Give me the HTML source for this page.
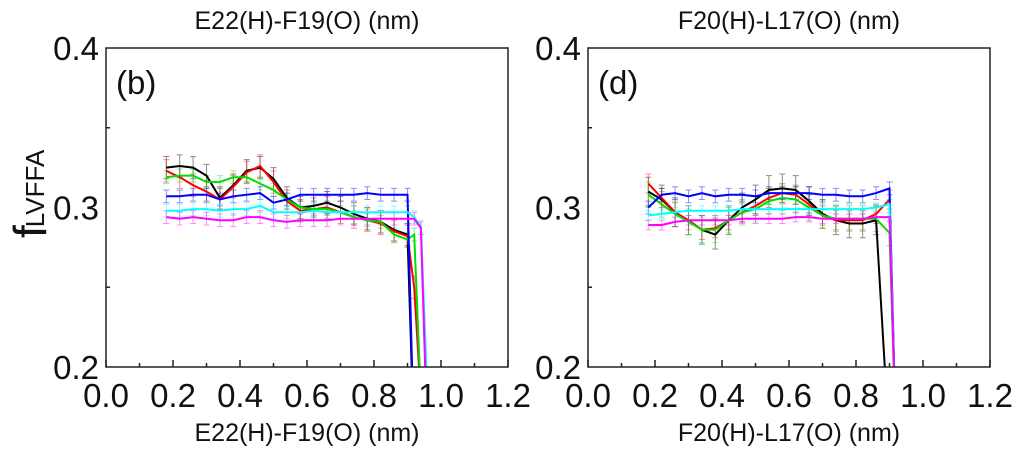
<!DOCTYPE html>
<html><head><meta charset="utf-8"><style>
body{margin:0;background:#fff;}
svg{display:block;font-family:"Liberation Sans",sans-serif;}
</style></head><body>
<svg id="chart" width="1024" height="456" viewBox="0 0 1024 456"></svg>
<script>
const xTicks=[0.0,0.2,0.4,0.6,0.8,1.0,1.2];
const yTicks=[0.2,0.3,0.4];
const seriesNames=["black","red","green","blue","cyan","magenta"];
const seriesColors=["#000000","#ff0000","#00dd00","#0000ff","#00ffff","#ff00ff"];
const xB=[0.18,0.22,0.26,0.30,0.34,0.38,0.42,0.46,0.50,0.54,0.58,0.62,0.66,0.70,0.74,0.78,0.82,0.86,0.90,0.92,0.94,0.96];
const bBlack=[0.325,0.326,0.325,0.320,0.306,0.314,0.323,0.325,0.318,0.306,0.300,0.301,0.303,0.300,0.296,0.293,0.291,0.286,0.283,0.15];
const bRed=[0.323,0.319,0.314,0.310,0.305,0.313,0.322,0.326,0.316,0.304,0.298,0.299,0.300,0.297,0.294,0.292,0.290,0.285,0.282,0.250,0.18];
const bGreen=[0.319,0.320,0.320,0.316,0.316,0.319,0.319,0.315,0.311,0.305,0.300,0.299,0.299,0.297,0.294,0.292,0.291,0.283,0.280,0.283,0.18];
const bBlue=[0.307,0.307,0.308,0.308,0.305,0.307,0.308,0.309,0.303,0.305,0.308,0.308,0.308,0.308,0.308,0.309,0.308,0.308,0.308,0.15];
const bCyan=[0.298,0.298,0.299,0.299,0.298,0.299,0.299,0.301,0.297,0.297,0.297,0.298,0.297,0.297,0.297,0.297,0.297,0.297,0.297,0.294,0.288,0.18];
const bMagenta=[0.294,0.293,0.294,0.293,0.292,0.292,0.294,0.294,0.292,0.291,0.292,0.292,0.292,0.293,0.293,0.293,0.293,0.293,0.293,0.293,0.287,0.15];
const bErr=[0.007,0.007,0.004,0.004,0.004,0.004];
const xD=[0.18,0.22,0.26,0.30,0.34,0.38,0.42,0.46,0.50,0.54,0.58,0.62,0.66,0.70,0.74,0.78,0.82,0.86,0.90,0.92];
const dBlack=[0.310,0.305,0.297,0.292,0.286,0.283,0.292,0.300,0.305,0.311,0.312,0.311,0.304,0.296,0.292,0.290,0.290,0.292,0.15];
const dRed=[0.315,0.306,0.297,0.292,0.286,0.287,0.292,0.297,0.301,0.306,0.309,0.308,0.302,0.295,0.292,0.292,0.292,0.296,0.305,0.15];
const dGreen=[0.308,0.302,0.296,0.291,0.286,0.286,0.292,0.297,0.299,0.304,0.306,0.305,0.300,0.295,0.293,0.293,0.293,0.293,0.284,0.15];
const dBlue=[0.300,0.308,0.309,0.307,0.309,0.307,0.308,0.308,0.307,0.309,0.309,0.309,0.309,0.308,0.308,0.307,0.307,0.309,0.312,0.15];
const dCyan=[0.295,0.296,0.297,0.298,0.298,0.298,0.298,0.299,0.299,0.299,0.299,0.299,0.299,0.299,0.299,0.299,0.299,0.300,0.302,0.15];
const dMagenta=[0.289,0.289,0.291,0.292,0.292,0.292,0.292,0.293,0.293,0.293,0.293,0.294,0.294,0.293,0.293,0.293,0.293,0.294,0.294,0.15];
const dErr=[0.009,0.006,0.008,0.004,0.003,0.003];

const NS="http://www.w3.org/2000/svg";
const svg=document.getElementById('chart');
function mk(tag,attrs,parent){const e=document.createElementNS(NS,tag);for(const k in attrs)e.setAttribute(k,attrs[k]);(parent||svg).appendChild(e);return e;}

function panel(px0,px1,title,label,xs,series,errs,pname){
  const py0=48,py1=367;
  const g=mk('g',{});
  
  
  const X=v=>px0+(v-0)/(1.2)*(px1-px0);
  const Y=v=>py1-(v-0.2)/(0.2)*(py1-py0);
  const cid='clip-'+pname;
  const cp=mk('clipPath',{id:cid},g);mk('rect',{x:px0,y:py0,width:px1-px0,height:py1-py0},cp);
  const plot=mk('g',{'clip-path':'url(#'+cid+')'},g);
  series.forEach((vals,si)=>{
    const col=seriesColors[si];
    const eg=mk('g',{},plot);
    
    
    vals.forEach((v,i)=>{ if(v<0.25) return;
      const x=X(xs[i]),e=errs[si];
      mk('path',{d:`M${x},${Y(v-e)}V${Y(v+e)}M${x-3},${Y(v-e)}h6M${x-3},${Y(v+e)}h6`,stroke:col,'stroke-width':1,fill:'none',opacity:0.45},eg);
    });
  });
  series.forEach((vals,si)=>{
    const d=vals.map((v,i)=>(i?'L':'M')+X(xs[i]).toFixed(1)+','+Y(v).toFixed(1)).join('');
    const p=mk('path',{d:d,stroke:seriesColors[si],'stroke-width':2,fill:'none'},plot);
    
    
  });
  const fr=mk('rect',{x:px0,y:py0,width:px1-px0,height:py1-py0,fill:'none',stroke:'#222','stroke-width':1.5},g);
  
  
  for(let t=0;t<=12;t++){const x=X(t/10);mk('line',{x1:x,x2:x,y1:py1,y2:py1-(t%2?4:7),stroke:'#222','stroke-width':1.5},g);}
  [0.25,0.35].forEach(v=>mk('line',{x1:px0,x2:px0+4,y1:Y(v),y2:Y(v),stroke:'#222','stroke-width':1.5},g));
  xTicks.forEach(v=>{const t=mk('text',{x:X(v),y:407,'font-size':33,'text-anchor':'middle',fill:'#111'},g);t.textContent=v.toFixed(1);
    });
  yTicks.forEach(v=>{const t=mk('text',{x:px0-7,y:Y(v)+12,'font-size':33,'text-anchor':'end',fill:'#111'},g);t.textContent=v.toFixed(1);
    });
  const tt=mk('text',{x:(px0+px1)/2,y:29,'font-size':25,'text-anchor':'middle',fill:'#111'},g);tt.textContent=title;
  
  const bt=mk('text',{x:(px0+px1)/2,y:441,'font-size':25,'text-anchor':'middle',fill:'#111'},g);bt.textContent=title;
  
  const pl=mk('text',{x:px0+10,y:94,'font-size':33,fill:'#111'},g);pl.textContent=label;
  
}
panel(106,508,"E22(H)-F19(O) (nm)","(b)",xB,[bBlack,bRed,bGreen,bBlue,bCyan,bMagenta],bErr,'panel-b');
panel(588,990,"F20(H)-L17(O) (nm)","(d)",xD,[dBlack,dRed,dGreen,dBlue,dCyan,dMagenta],dErr,'panel-d');
const yl=mk('text',{transform:'translate(46,238) rotate(-90)','font-size':30,fill:'#111'});


yl.innerHTML='<tspan font-size="46">f</tspan><tspan font-size="26" dy="-2" dx="-2">LVFFA</tspan>';
</script>
</body></html>
